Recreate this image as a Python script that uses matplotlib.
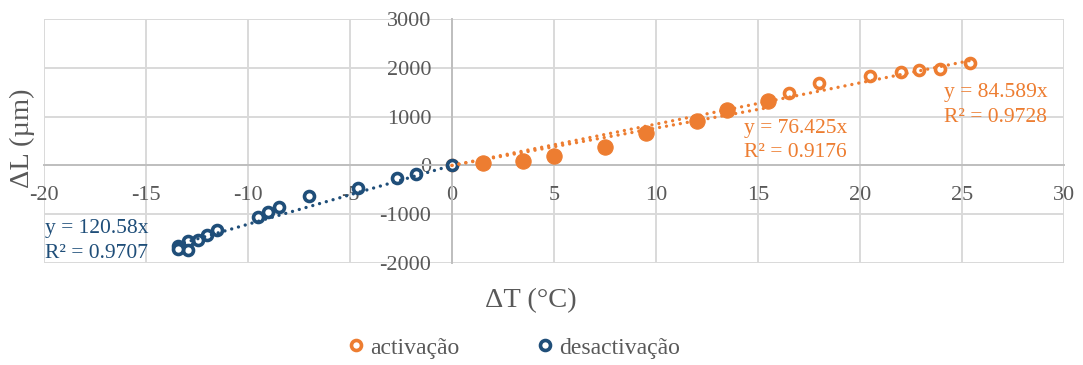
import numpy as np
import matplotlib
matplotlib.use("Agg")
import matplotlib.pyplot as plt
from matplotlib.lines import Line2D

# Heating run (all points) and the early part of the heating run
act_x = [0, 1.5, 3.5, 5.0, 7.5, 9.5, 12.0, 13.5, 15.5, 16.5, 18.0, 20.5, 22.0, 22.9, 23.9, 25.4]
act_y = [0, 45, 100, 185, 380, 655, 920, 1135, 1318, 1492, 1695, 1842, 1915, 1950, 1975, 2108]
early_x = [1.5, 3.5, 5.0, 7.5, 9.5, 12.0, 13.5, 15.5]
early_y = [45, 100, 185, 380, 655, 920, 1135, 1318]

# Cooling run
deact_x = [0, -1.75, -2.7, -4.6, -7.0, -8.5, -9.0, -9.5, -11.5, -12.0,
           -12.45, -12.95, -12.95, -13.45, -13.45]
deact_y = [0, -175, -255, -460, -635, -860, -955, -1055, -1330, -1430,
           -1530, -1540, -1730, -1650, -1710]

# Linear fits through the origin
act_slope, act_r2 = 84.589, 0.9728
early_slope, early_r2 = 76.425, 0.9176
deact_slope, deact_r2 = 120.58, 0.9707

legend_labels = ["activação", "desactivação"]
x_ticks = list(range(-20, 31, 5))
y_ticks = list(range(-2000, 3001, 1000))
x_label = "ΔT (°C)"
y_label = "ΔL (µm)"

ORANGE = "#ED7D31"
BLUE = "#1F4E79"
TEXT = "#595959"
GRID = "#D9D9D9"
AXIS = "#BFBFBF"

plt.rcParams["font.family"] = ["Liberation Serif", "DejaVu Serif"]
plt.rcParams["axes.unicode_minus"] = False

W, H = 1083, 365
fig = plt.figure(figsize=(W / 100, H / 100), dpi=100)
ax = fig.add_axes([44 / W, 1 - 263 / H, (1064 - 44) / W, (263 - 19) / H])

ax.set_xlim(-20, 30)
ax.set_ylim(-2000, 3000)
ax.set_xticks(x_ticks)
ax.set_yticks(y_ticks)
ax.grid(True, color=GRID, lw=1.4, zorder=0)
ax.set_axisbelow(True)

for side in ("top", "right"):
    ax.spines[side].set_visible(False)
ax.spines["left"].set_position(("data", 0))
ax.spines["bottom"].set_position(("data", 0))
for side in ("left", "bottom"):
    ax.spines[side].set_color(AXIS)
    ax.spines[side].set_linewidth(1.4)
    ax.spines[side].set_zorder(1)

ax.tick_params(axis="both", length=0, labelsize=16, labelcolor=TEXT)
ax.tick_params(axis="y", pad=15)
ax.tick_params(axis="x", pad=15)

open_kw = dict(ls="none", marker="o", ms=7.2, mew=2.6, mfc="white")

ax.plot(act_x, act_y, mec=ORANGE, zorder=3, **open_kw)
ax.plot(early_x, early_y, ls="none", marker="o", ms=11, mew=0.8,
        mfc=ORANGE, mec=ORANGE, zorder=4)
ax.plot(deact_x, deact_y, mec=BLUE, zorder=5, **open_kw)

dot_kw = dict(lw=2.4, ls=(0, (0.01, 2.1)), dash_capstyle="round", zorder=6)
for xs, slope, color in ((act_x, act_slope, ORANGE),
                         (early_x, early_slope, ORANGE),
                         (deact_x, deact_slope, BLUE)):
    tx = np.linspace(min(min(xs), 0), max(max(xs), 0), 200)
    ax.plot(tx, slope * tx, color=color, **dot_kw)


def fig_text(x, y, s, **kw):
    fig.text(x / W, 1 - y / H, s, **kw)


eq_kw = dict(fontsize=15.5, va="center", ha="left")
fig_text(944, 92, f"y = {act_slope}x", color=ORANGE, **eq_kw)
fig_text(944, 117, f"R² = {act_r2}", color=ORANGE, **eq_kw)
fig_text(744, 128, f"y = {early_slope}x", color=ORANGE, **eq_kw)
fig_text(744, 152, f"R² = {early_r2}", color=ORANGE, **eq_kw)
fig_text(45, 229, f"y = {deact_slope}x", color=BLUE, **eq_kw)
fig_text(45, 253, f"R² = {deact_r2}", color=BLUE, **eq_kw)

fig_text(531, 301, x_label, fontsize=20.5, color=TEXT, ha="center", va="center")
fig_text(22, 138, y_label, fontsize=20.5, color=TEXT, ha="center", va="center",
         rotation=90)

handles = [Line2D([], [], mec=ORANGE, **open_kw),
           Line2D([], [], mec=BLUE, **open_kw)]
fig.legend(handles, legend_labels, loc="center", bbox_to_anchor=(514 / W, 1 - 348 / H),
           ncol=2, frameon=False, fontsize=17, labelcolor=TEXT,
           handlelength=0.7, handletextpad=0.25, columnspacing=3.3,
           borderpad=0, borderaxespad=0)

fig.savefig("out.png", dpi=100)
